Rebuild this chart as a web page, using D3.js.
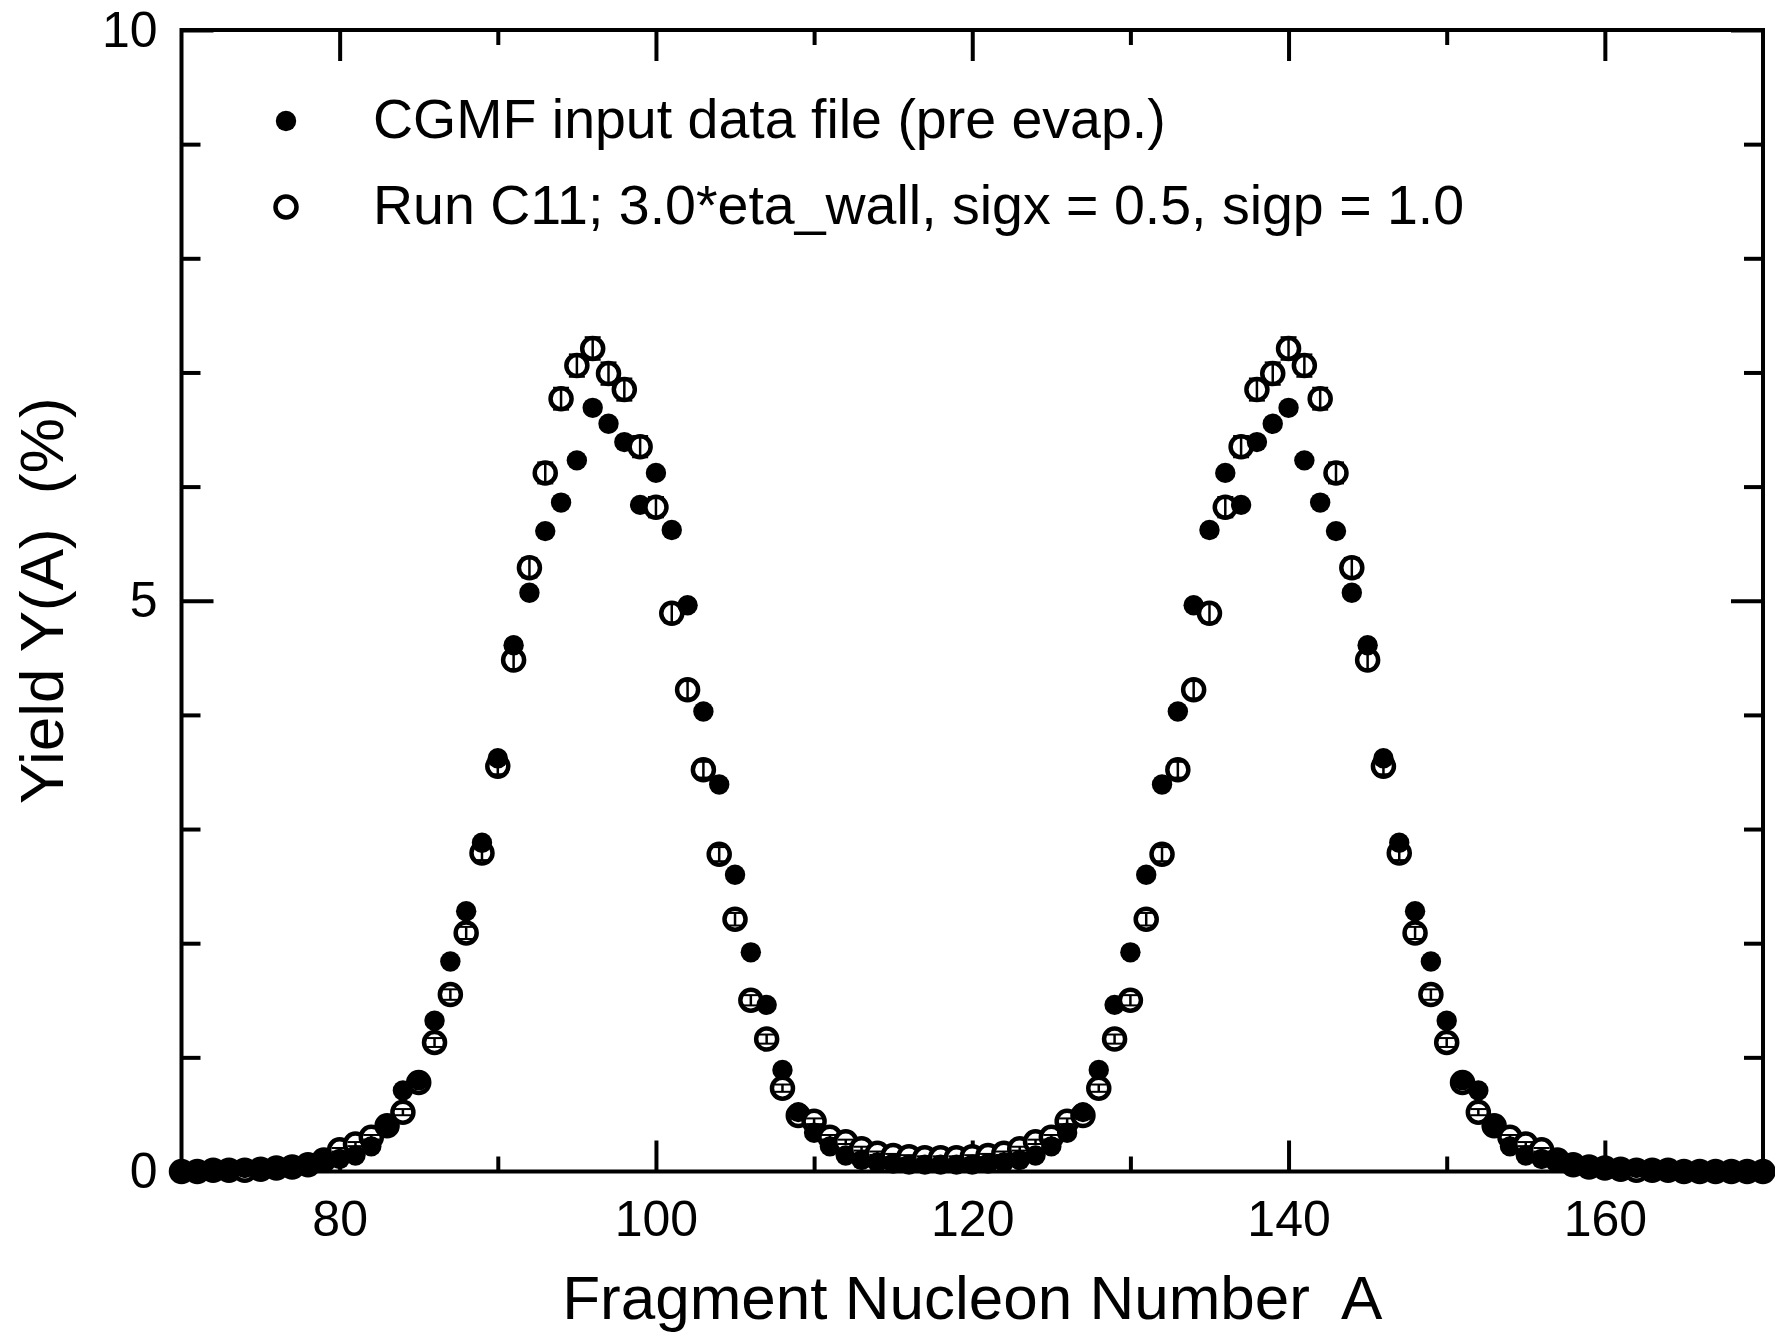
<!DOCTYPE html>
<html>
<head>
<meta charset="utf-8">
<script src="https://cdn.jsdelivr.net/npm/d3@7"></script>
<style>
  body { margin: 0; background: #fff; }
  text { font-family: "Liberation Sans", Arial, sans-serif; fill: #000; }
</style>
</head>
<body>
<svg id="chart" width="1775" height="1332"></svg>
<script>
// Fragment mass numbers A
const massNumbers = [
  70, 71, 72, 73, 74, 75, 76, 77, 78, 79,
  80, 81, 82, 83, 84, 85, 86, 87, 88, 89,
  90, 91, 92, 93, 94, 95, 96, 97, 98, 99,
  100, 101, 102, 103, 104, 105, 106, 107, 108, 109,
  110, 111, 112, 113, 114, 115, 116, 117, 118, 119,
  120, 121, 122, 123, 124, 125, 126, 127, 128, 129,
  130, 131, 132, 133, 134, 135, 136, 137, 138, 139,
  140, 141, 142, 143, 144, 145, 146, 147, 148, 149,
  150, 151, 152, 153, 154, 155, 156, 157, 158, 159,
  160, 161, 162, 163, 164, 165, 166, 167, 168, 169,
  170
];

// CGMF input data file (pre evap.) - filled dots
const inputYield = [
  0.01, 0.01, 0.02, 0.02, 0.03, 0.03, 0.04, 0.05, 0.07, 0.09,
  0.11, 0.14, 0.22, 0.40, 0.71, 0.80, 1.32, 1.84, 2.28, 2.88,
  3.62, 4.61, 5.07, 5.61, 5.86, 6.23, 6.69, 6.55, 6.39, 5.84,
  6.12, 5.62, 4.96, 4.03, 3.39, 2.60, 1.92, 1.46, 0.89, 0.52,
  0.34, 0.22, 0.14, 0.10, 0.08, 0.07, 0.06, 0.06, 0.06, 0.06,
  0.06, 0.07, 0.08, 0.10, 0.14, 0.22, 0.34, 0.52, 0.89, 1.46,
  1.92, 2.60, 3.39, 4.03, 4.96, 5.62, 6.12, 5.84, 6.39, 6.55,
  6.69, 6.23, 5.86, 5.61, 5.07, 4.61, 3.62, 2.88, 2.28, 1.84,
  1.32, 0.80, 0.71, 0.40, 0.22, 0.14, 0.11, 0.09, 0.07, 0.05,
  0.04, 0.03, 0.03, 0.02, 0.02, 0.01, 0.01, 0.01, 0.01, 0.01,
  0.01
];

// Run C11 - open circles
const runYield = [
  0.00, 0.00, 0.01, 0.01, 0.01, 0.02, 0.03, 0.04, 0.06, 0.10,
  0.19, 0.24, 0.30, 0.40, 0.52, 0.78, 1.13, 1.55, 2.09, 2.79,
  3.55, 4.48, 5.29, 6.12, 6.77, 7.06, 7.21, 6.99, 6.85, 6.35,
  5.82, 4.89, 4.22, 3.52, 2.78, 2.21, 1.50, 1.16, 0.73, 0.49,
  0.44, 0.30, 0.26, 0.20, 0.16, 0.14, 0.13, 0.12, 0.12, 0.12,
  0.13, 0.14, 0.16, 0.20, 0.26, 0.30, 0.44, 0.49, 0.73, 1.16,
  1.50, 2.21, 2.78, 3.52, 4.22, 4.89, 5.82, 6.35, 6.85, 6.99,
  7.21, 7.06, 6.77, 6.12, 5.29, 4.48, 3.55, 2.79, 2.09, 1.55,
  1.13, 0.78, 0.52, 0.40, 0.30, 0.24, 0.19, 0.10, 0.06, 0.04,
  0.03, 0.02, 0.01, 0.01, 0.01, 0.00, 0.00, 0.00, 0.00, 0.00,
  0.00
];

// Run C11 - statistical error bars
const runError = [
  0.000, 0.000, 0.004, 0.004, 0.004, 0.005, 0.006, 0.007, 0.009, 0.012,
  0.016, 0.018, 0.020, 0.023, 0.027, 0.033, 0.039, 0.046, 0.053, 0.062,
  0.070, 0.078, 0.085, 0.092, 0.096, 0.098, 0.099, 0.098, 0.097, 0.093,
  0.089, 0.082, 0.076, 0.069, 0.062, 0.055, 0.045, 0.040, 0.032, 0.026,
  0.025, 0.020, 0.019, 0.017, 0.015, 0.014, 0.013, 0.013, 0.013, 0.013,
  0.013, 0.014, 0.015, 0.017, 0.019, 0.020, 0.025, 0.026, 0.032, 0.040,
  0.045, 0.055, 0.062, 0.069, 0.076, 0.082, 0.089, 0.093, 0.097, 0.098,
  0.099, 0.098, 0.096, 0.092, 0.085, 0.078, 0.070, 0.062, 0.053, 0.046,
  0.039, 0.033, 0.027, 0.023, 0.020, 0.018, 0.016, 0.012, 0.009, 0.007,
  0.006, 0.005, 0.004, 0.004, 0.004, 0.000, 0.000, 0.000, 0.000, 0.000,
  0.000
];

const xMajorTicks = [80, 100, 120, 140, 160];
const xMinorTicks = [90, 110, 130, 150];
const yMajorTicks = [0, 5, 10];
const yMinorTicks = [1, 2, 3, 4, 6, 7, 8, 9];

const legendLabels = [
  'CGMF input data file (pre evap.)',
  'Run C11; 3.0*eta_wall, sigx = 0.5, sigp = 1.0'
];

const svg = d3.select('#chart');

const plot = { left: 181.5, right: 1763, top: 30, bottom: 1171.5 };

const x = d3.scaleLinear().domain([70, 170]).range([plot.left, plot.right]);
const y = d3.scaleLinear().domain([0, 10]).range([plot.bottom, plot.top]);

const tickStroke = 4;

// axes (ticks point inward on all four sides)
function styleAxis(g) {
  g.select('.domain').remove();
  g.selectAll('.tick line').attr('stroke', '#000').attr('stroke-width', tickStroke);
  g.selectAll('.tick text')
    .style('font-family', '"Liberation Sans", Arial, sans-serif')
    .attr('fill', '#000');
}

svg.append('g')
  .attr('transform', `translate(0,${plot.bottom})`)
  .call(d3.axisBottom(x).tickValues(xMajorTicks).tickSize(-31).tickPadding(29).tickFormat(d3.format('d')))
  .call(styleAxis)
  .selectAll('text').style('font-size', '50px');

svg.append('g')
  .attr('transform', `translate(0,${plot.bottom})`)
  .call(d3.axisBottom(x).tickValues(xMinorTicks).tickSize(-15).tickFormat(''))
  .call(styleAxis);

svg.append('g')
  .attr('transform', `translate(0,${plot.top})`)
  .call(d3.axisTop(x).tickValues(xMajorTicks).tickSize(-31).tickFormat(''))
  .call(styleAxis);

svg.append('g')
  .attr('transform', `translate(0,${plot.top})`)
  .call(d3.axisTop(x).tickValues(xMinorTicks).tickSize(-15).tickFormat(''))
  .call(styleAxis);

svg.append('g')
  .attr('transform', `translate(${plot.left},0)`)
  .call(d3.axisLeft(y).tickValues(yMajorTicks).tickSize(-32).tickPadding(24).tickFormat(d3.format('d')))
  .call(styleAxis)
  .selectAll('text').style('font-size', '50px');

svg.append('g')
  .attr('transform', `translate(${plot.left},0)`)
  .call(d3.axisLeft(y).tickValues(yMinorTicks).tickSize(-19).tickFormat(''))
  .call(styleAxis);

svg.append('g')
  .attr('transform', `translate(${plot.right},0)`)
  .call(d3.axisRight(y).tickValues(yMajorTicks).tickSize(-32).tickFormat(''))
  .call(styleAxis);

svg.append('g')
  .attr('transform', `translate(${plot.right},0)`)
  .call(d3.axisRight(y).tickValues(yMinorTicks).tickSize(-19).tickFormat(''))
  .call(styleAxis);

// frame
svg.append('rect')
  .attr('x', plot.left)
  .attr('y', plot.top)
  .attr('width', plot.right - plot.left)
  .attr('height', plot.bottom - plot.top)
  .attr('fill', 'none')
  .attr('stroke', '#000')
  .attr('stroke-width', 4);

// axis titles
svg.append('text')
  .attr('x', (plot.left + plot.right) / 2)
  .attr('y', 1319)
  .attr('text-anchor', 'middle')
  .style('font-size', '62px')
  .attr('xml:space', 'preserve')
  .text('Fragment Nucleon Number  A');

svg.append('text')
  .attr('transform', `translate(63,${(plot.top + plot.bottom) / 2}) rotate(-90)`)
  .attr('text-anchor', 'middle')
  .style('font-size', '62px')
  .attr('xml:space', 'preserve')
  .text('Yield Y(A)  (%)');

// markers, drawn point by point: open circle with error bar, then filled dot
const rDot = 10.2;
const rRing = 10.5;
const ringWidth = 4.5;
const capHalf = 8;

const points = massNumbers.map((a, i) => ({
  a, filled: inputYield[i], open: runYield[i], err: runError[i]
}));

const pt = svg.append('g').selectAll('g.pt')
  .data(points)
  .join('g')
  .attr('class', 'pt');

pt.append('circle')
  .attr('cx', d => x(d.a))
  .attr('cy', d => y(d.open))
  .attr('r', rRing)
  .attr('fill', '#fff')
  .attr('stroke', '#000')
  .attr('stroke-width', ringWidth);

pt.append('line')
  .attr('x1', d => x(d.a))
  .attr('x2', d => x(d.a))
  .attr('y1', d => y(d.open - d.err))
  .attr('y2', d => y(d.open + d.err))
  .attr('stroke', '#000')
  .attr('stroke-width', 2.5);

pt.append('line')
  .attr('x1', d => x(d.a) - capHalf)
  .attr('x2', d => x(d.a) + capHalf)
  .attr('y1', d => y(d.open + d.err))
  .attr('y2', d => y(d.open + d.err))
  .attr('stroke', '#000')
  .attr('stroke-width', 2);

pt.append('line')
  .attr('x1', d => x(d.a) - capHalf)
  .attr('x2', d => x(d.a) + capHalf)
  .attr('y1', d => y(d.open - d.err))
  .attr('y2', d => y(d.open - d.err))
  .attr('stroke', '#000')
  .attr('stroke-width', 2);

pt.append('circle')
  .attr('cx', d => x(d.a))
  .attr('cy', d => y(d.filled))
  .attr('r', rDot)
  .attr('fill', '#000');

// legend
const legend = svg.append('g');
const legendRows = [121, 207];

legend.append('circle')
  .attr('cx', 286).attr('cy', legendRows[0]).attr('r', rDot).attr('fill', '#000');
legend.append('circle')
  .attr('cx', 286).attr('cy', legendRows[1]).attr('r', rRing)
  .attr('fill', '#fff').attr('stroke', '#000').attr('stroke-width', ringWidth);

legend.selectAll('text')
  .data(legendLabels)
  .join('text')
  .attr('x', 373)
  .attr('y', (d, i) => legendRows[i] + 17)
  .style('font-size', '55.5px')
  .text(d => d);
</script>
</body>
</html>
